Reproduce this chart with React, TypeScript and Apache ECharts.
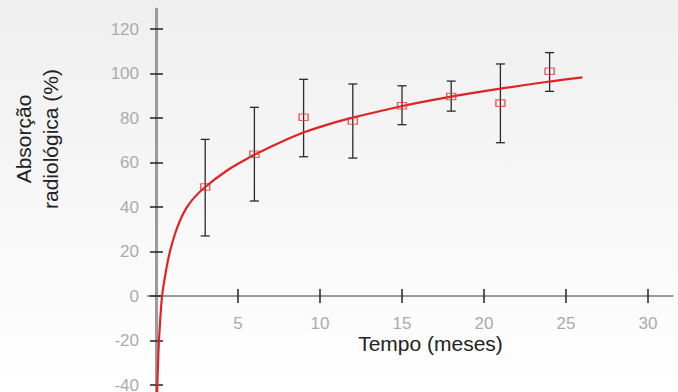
import React, { useEffect, useRef } from "react";
import * as echarts from "echarts";

// Measured points (months) with mean and error-bar bounds
const months = [3, 6, 9, 12, 15, 18, 21, 24];
const meanValues = [49, 63.7, 80.3, 78.7, 85.5, 89.7, 86.7, 101];
const lowValues = [27, 42.7, 62.6, 62, 77, 83.1, 68.9, 92];
const highValues = [70.4, 84.8, 97.4, 95.3, 94.5, 96.6, 104.3, 109.4];

// Fitted curve, points
const curveX = [0.065, 0.08, 0.12, 0.18, 0.37, 0.65, 0.85, 1.16, 1.5, 1.85, 2.3, 3, 4.31, 5.33, 6, 7.56, 9.02, 10.8, 12, 14.9, 18, 21, 24, 26];
const curveY = [-46, -40, -31.5, -20, 0, 13, 20, 28, 34.5, 39.5, 44, 49, 56.3, 60.8, 63.5, 69, 73.6, 77.8, 80.2, 85.2, 89.6, 93.2, 96.4, 98.3];

// Tick labels
const xTicks = [5, 10, 15, 20, 25, 30];
const yTicks = [-40, -20, 0, 20, 40, 60, 80, 100, 120];

const FONT = "'Liberation Sans', Arial, Helvetica, sans-serif";

export default function App() {
  const ref = useRef<HTMLDivElement>(null);
  useEffect(() => {
    if (!ref.current) return;
    const chart = echarts.init(ref.current, undefined, { renderer: "svg" });
    const xMin = -0.5, xMax = 31.5, yMin = -45, yMax = 129;
    const gridLeft = 147.8, gridTop = 9, gridW = 524.8, gridH = 387.15;
    // distance from grid bottom to the zero line, and from grid left to x = 0
    const zeroFromBottom = (0 - yMin) / (yMax - yMin) * gridH;
    const zeroFromLeft = (0 - xMin) / (xMax - xMin) * gridW;
    const baseX = {
      type: "value",
      min: xMin,
      max: xMax,
      splitLine: { show: false },
      position: "bottom",
    };
    const baseY = {
      type: "value",
      min: yMin,
      max: yMax,
      splitLine: { show: false },
      position: "left",
    };
    const tickStyle = { color: "#222", width: 1.5 };
    chart.setOption({
      animation: false,
      backgroundColor: {
        type: "linear",
        x: 0, y: 0, x2: 0, y2: 1,
        colorStops: [
          { offset: 0, color: "#efefef" },
          { offset: 1, color: "#ffffff" },
        ],
      },
      grid: {
        left: gridLeft, top: gridTop, width: gridW, height: gridH,
        containLabel: false, outerBoundsMode: "none",
      },
      xAxis: [
        {
          ...baseX,
          axisLine: { show: true, onZero: true, onZeroAxisIndex: 0, lineStyle: { color: "#9a9a9a", width: 2 } },
          axisTick: { show: true, inside: false, length: 7, customValues: xTicks, lineStyle: tickStyle },
          axisLabel: { show: false },
        },
        {
          ...baseX,
          axisLine: { show: false, onZero: true, onZeroAxisIndex: 0 },
          axisTick: { show: true, inside: true, length: 7, customValues: xTicks, lineStyle: tickStyle },
          axisLabel: { show: false },
        },
        {
          ...baseX,
          offset: -zeroFromBottom,
          axisLine: { show: false, onZero: false },
          axisTick: { show: false },
          axisLabel: {
            show: true, customValues: xTicks, margin: 21, lineHeight: 13,
            color: "#ababab", fontSize: 17, fontFamily: FONT,
          },
        },
      ],
      yAxis: [
        {
          ...baseY,
          axisLine: { show: true, onZero: true, onZeroAxisIndex: 0, lineStyle: { color: "#9a9a9a", width: 3 } },
          axisTick: { show: true, inside: false, length: 6, customValues: yTicks, lineStyle: tickStyle },
          axisLabel: { show: false },
        },
        {
          ...baseY,
          axisLine: { show: false, onZero: true, onZeroAxisIndex: 0 },
          axisTick: { show: true, inside: true, length: 7, customValues: yTicks, lineStyle: tickStyle },
          axisLabel: { show: false },
        },
        {
          ...baseY,
          offset: -zeroFromLeft,
          axisLine: { show: false, onZero: false },
          axisTick: { show: false },
          axisLabel: {
            show: true, customValues: yTicks, margin: 17, lineHeight: 13,
            color: "#ababab", fontSize: 17, fontFamily: FONT,
          },
        },
      ],
      graphic: [
        {
          type: "text",
          x: 37,
          y: 139,
          rotation: Math.PI / 2,
          style: {
            text: "Absorção\nradiológica (%)",
            font: `21px ${FONT}`,
            fill: "#222",
            align: "center",
            verticalAlign: "middle",
            lineHeight: 27,
          },
        },
        {
          type: "text",
          x: 430.5,
          y: 343,
          style: {
            text: "Tempo (meses)",
            font: `21px ${FONT}`,
            fill: "#222",
            align: "center",
            verticalAlign: "middle",
            lineHeight: 20,
          },
        },
      ],
      series: [
        {
          type: "custom",
          xAxisIndex: 0,
          yAxisIndex: 0,
          z: 2,
          data: months.map((m, i) => [m, lowValues[i], highValues[i]]),
          renderItem: (params: any, api: any) => {
            const x = api.value(0);
            const lo = api.coord([x, api.value(1)]);
            const hi = api.coord([x, api.value(2)]);
            const w = 4.5;
            const style = { stroke: "#2a2a2a", lineWidth: 1.3 };
            return {
              type: "group",
              children: [
                { type: "line", shape: { x1: lo[0], y1: lo[1], x2: hi[0], y2: hi[1] }, style },
                { type: "line", shape: { x1: hi[0] - w, y1: hi[1], x2: hi[0] + w, y2: hi[1] }, style },
                { type: "line", shape: { x1: lo[0] - w, y1: lo[1], x2: lo[0] + w, y2: lo[1] }, style },
              ],
            };
          },
        },
        {
          type: "line",
          xAxisIndex: 0,
          yAxisIndex: 0,
          z: 3,
          data: curveX.map((x, i) => [x, curveY[i]]),
          showSymbol: false,
          smooth: 0.3,
          clip: true,
          lineStyle: { color: "#e02323", width: 2.2 },
        },
        {
          type: "scatter",
          xAxisIndex: 0,
          yAxisIndex: 0,
          z: 4,
          data: months.map((m, i) => [m, meanValues[i]]),
          symbol: "rect",
          symbolSize: [9, 6.5],
          itemStyle: { color: "rgba(255,255,255,0)", borderColor: "#e8323a", borderWidth: 1.2 },
        },
      ],
    });
    return () => chart.dispose();
  }, []);
  return (
    <div
      ref={ref}
      style={{ position: "absolute", left: 0, top: 0, width: 678, height: 392 }}
    />
  );
}
